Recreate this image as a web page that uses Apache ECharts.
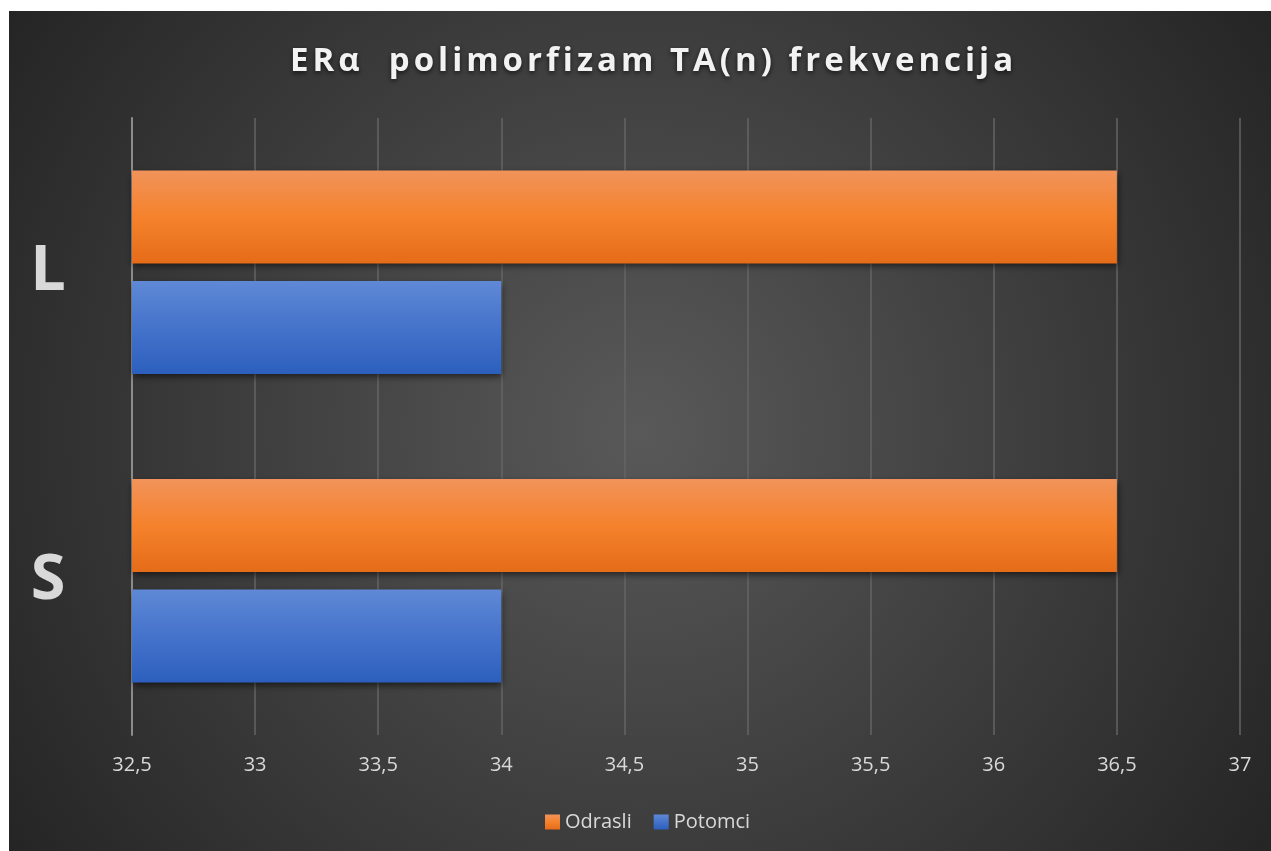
<!DOCTYPE html>
<html>
<head>
<meta charset="utf-8">
<script src="https://cdn.jsdelivr.net/npm/echarts@6/dist/echarts.min.js"></script>
<style>
  html, body { margin: 0; padding: 0; background: #ffffff; width: 1271px; height: 851px; overflow: hidden; }
  #chart { position: absolute; left: 9px; top: 11px; width: 1262px; height: 840px; }
</style>
</head>
<body>
<div id="chart"></div>
<script>
const titleText = 'ERα  polimorfizam TA(n) frekvencija';
const categories = ['L', 'S'];
const seriesNames = ['Odrasli', 'Potomci'];
const odrasli = [36.5, 36.5];
const potomci = [34, 34];
const xMin = 32.5, xMax = 37, xStep = 0.5;

const FONT = '"Open Sans", "Noto Sans", sans-serif';

// Letter spacing for the title font only (the Excel title is spaced out).
(function () {
  const proto = CanvasRenderingContext2D.prototype;
  const desc = Object.getOwnPropertyDescriptor(proto, 'font');
  if (desc && desc.set && 'letterSpacing' in proto) {
    Object.defineProperty(proto, 'font', {
      configurable: true,
      get: desc.get,
      set: function (v) {
        desc.set.call(this, v);
        try { this.letterSpacing = (String(v).indexOf('33px') >= 0 && String(v).indexOf('bold') >= 0) ? '4px' : '0px'; } catch (e) {}
      }
    });
  }
})();

const chart = echarts.init(document.getElementById('chart'), null, { renderer: 'canvas' });

function vgrad(top, mid, bottom) {
  return new echarts.graphic.LinearGradient(0, 0, 0, 1, [
    { offset: 0, color: top }, { offset: 0.5, color: mid }, { offset: 1, color: bottom }
  ]);
}

chart.setOption({
  backgroundColor: {
    type: 'radial', x: 0.5, y: 0.5, r: 0.95,
    colorStops: [
      { offset: 0, color: '#595959' },
      { offset: 1, color: '#222222' }
    ]
  },
  textStyle: { fontFamily: FONT },
  title: {
    text: titleText,
    left: 281,
    top: 32,
    padding: 0,
    textStyle: {
      color: '#f2f2f2', fontSize: 33, fontWeight: 'bold', fontFamily: FONT,
      textShadowColor: 'rgba(0,0,0,0.65)', textShadowBlur: 5, textShadowOffsetY: 2
    }
  },
  legend: {
    data: seriesNames,
    top: 796,
    left: 531,
    padding: 5,
    icon: 'rect',
    itemWidth: 15, itemHeight: 15, itemGap: 22,
    textStyle: { color: '#d9d9d9', fontSize: 20, fontFamily: FONT }
  },
  grid: { left: 123, top: 107, width: 1108, height: 617, containLabel: false },
  xAxis: {
    type: 'value',
    min: xMin, max: xMax, interval: xStep,
    axisLine: { show: false },
    axisTick: { show: false },
    splitLine: { show: true, lineStyle: { color: '#646464', width: 1.5 } },
    axisLabel: {
      color: '#d9d9d9', fontSize: 20, margin: 20, fontFamily: FONT,
      formatter: v => String(v).replace('.', ',')
    }
  },
  yAxis: {
    type: 'category',
    data: categories,
    inverse: true,
    axisLine: { show: true, lineStyle: { color: '#8c8c8c', width: 2 } },
    axisTick: { show: false },
    splitLine: { show: false },
    axisLabel: {
      color: '#d9d9d9', fontSize: 63, fontWeight: 'bold', fontFamily: FONT,
      align: 'center', margin: 84
    }
  },
  series: [
    {
      name: seriesNames[0], type: 'bar', data: odrasli,
      barCategoryGap: '34%', barGap: '19%',
      itemStyle: {
        color: vgrad('#f1935a', '#f5822c', '#e56c18'),
        shadowColor: 'rgba(0,0,0,0.6)', shadowBlur: 7, shadowOffsetY: 3, shadowOffsetX: 1
      },
      emphasis: { disabled: true }
    },
    {
      name: seriesNames[1], type: 'bar', data: potomci,
      barCategoryGap: '34%', barGap: '19%',
      itemStyle: {
        color: vgrad('#5f89d6', '#4573cb', '#2c5fbd'),
        shadowColor: 'rgba(0,0,0,0.6)', shadowBlur: 7, shadowOffsetY: 3, shadowOffsetX: 1
      },
      emphasis: { disabled: true }
    }
  ],
  animation: false
});
</script>
</body>
</html>
